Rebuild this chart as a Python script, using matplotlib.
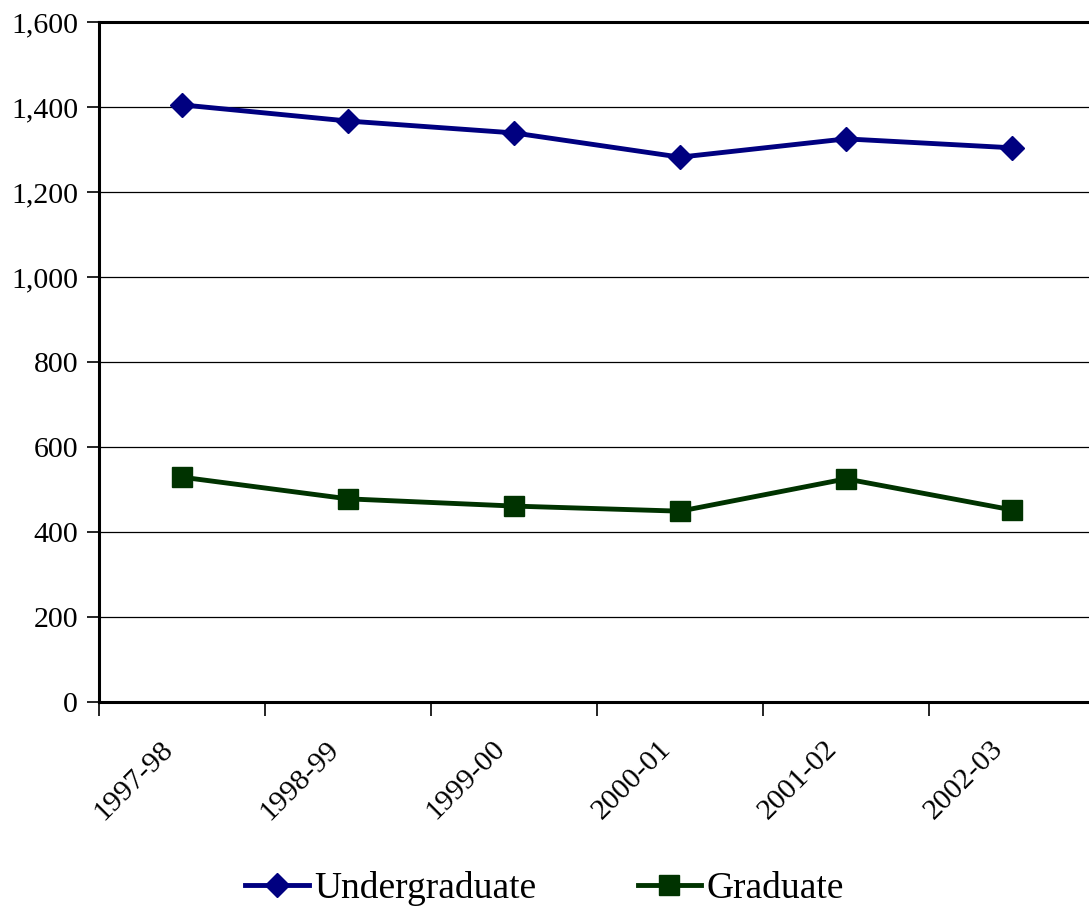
import matplotlib
matplotlib.use("Agg")
import matplotlib.pyplot as plt
from matplotlib.ticker import FuncFormatter

years = ["1997-98", "1998-99", "1999-00", "2000-01", "2001-02", "2002-03"]
undergraduate = [1405, 1367, 1339, 1282, 1325, 1304]
graduate = [529, 478, 461, 449, 525, 452]

plt.rcParams['font.family'] = ['Liberation Serif', 'DejaVu Serif']

fig = plt.figure(figsize=(10.89, 9.07), dpi=100)
ax = fig.add_axes([99/1089, 205/907, 996/1089, 680/907])

x = list(range(len(years)))
ax.plot(x, undergraduate, color='#000080', lw=3.5, marker='D', markersize=12,
        label='Undergraduate', zorder=3)
ax.plot(x, graduate, color='#003300', lw=3.5, marker='s', markersize=15,
        label='Graduate', zorder=3)

ax.set_xlim(-0.5, len(years) - 0.5)
ax.set_ylim(0, 1600)
ax.set_yticks(range(0, 1601, 200))
ax.yaxis.set_major_formatter(FuncFormatter(lambda v, p: f"{int(v):,}"))
ax.set_xticks([i - 0.5 for i in range(len(years) + 1)])
ax.set_xticklabels([])
label_shift = -0.08
ax.set_xticks([i + label_shift for i in x], minor=True)
ax.set_xticklabels(years, minor=True, rotation=45, ha='right', va='center',
                   rotation_mode='anchor')
ax.tick_params(axis='x', which='minor', length=0, pad=31, labelsize=21.5)
ax.tick_params(axis='x', which='major', length=10, width=1.2, direction='out')
ax.tick_params(axis='y', length=9, width=1.2, direction='out', labelsize=21.5, pad=6)

ax.grid(axis='y', color='black', lw=0.9)
ax.set_axisbelow(True)
for s in ['left', 'bottom', 'top']:
    ax.spines[s].set_linewidth(2.2)
    ax.spines[s].set_color('black')
ax.spines['right'].set_visible(False)

leg = fig.legend(loc='lower center', bbox_to_anchor=(0.5, -0.036), ncol=2, frameon=False,
                 fontsize=27, handlelength=1.7, columnspacing=2.7, handletextpad=0.15)

fig.savefig('out.png', dpi=100)
